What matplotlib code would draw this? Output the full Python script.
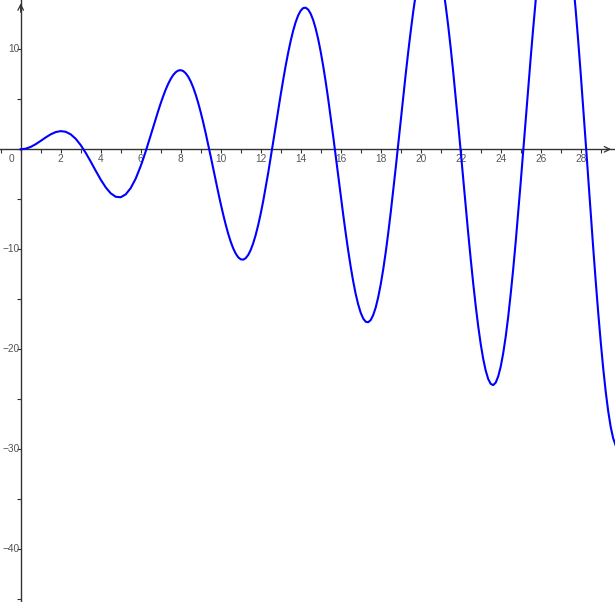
import matplotlib
matplotlib.use("Agg")
import matplotlib.pyplot as plt
from matplotlib.ticker import MultipleLocator

# Points
x_vals = [0, 0.25, 0.5, 0.75, 1, 1.25, 1.5, 1.75, 2, 2.25, 2.5, 2.75,
          3, 3.25, 3.5, 3.75, 4, 4.25, 4.5, 4.75, 5, 5.25, 5.5, 5.75,
          6, 6.125, 6.25, 6.375, 6.5, 6.625, 6.75, 6.875,
          7, 7.125, 7.25, 7.375, 7.5, 7.625, 7.75, 7.875,
          8, 8.125, 8.25, 8.375, 8.5, 8.625, 8.75, 8.875,
          9, 9.125, 9.25, 9.375, 9.5, 9.625, 9.75, 9.875,
          10, 10.125, 10.25, 10.375, 10.5, 10.625, 10.75, 10.875,
          11, 11.125, 11.25, 11.375, 11.5, 11.625, 11.75, 11.875,
          12, 12.125, 12.25, 12.375, 12.5, 12.625, 12.75, 12.875,
          13, 13.125, 13.25, 13.375, 13.5, 13.625, 13.75, 13.875,
          14, 14.125, 14.25, 14.375, 14.5, 14.625, 14.75, 14.875,
          15, 15.125, 15.25, 15.375, 15.5, 15.625, 15.75, 15.875,
          16, 16.125, 16.25, 16.375, 16.5, 16.625, 16.75, 16.875,
          17, 17.125, 17.25, 17.375, 17.5, 17.625, 17.75, 17.875,
          18, 18.125, 18.25, 18.375, 18.5, 18.625, 18.75, 18.875,
          19, 19.125, 19.25, 19.375, 19.5, 19.625, 19.75, 19.875,
          20, 20.125, 20.25, 20.375, 20.5, 20.625, 20.75, 20.875,
          21, 21.125, 21.25, 21.375, 21.5, 21.625, 21.75, 21.875,
          22, 22.125, 22.25, 22.375, 22.5, 22.625, 22.75, 22.875,
          23, 23.125, 23.25, 23.375, 23.5, 23.625, 23.75, 23.875,
          24, 24.125, 24.25, 24.375, 24.5, 24.625, 24.75, 24.875,
          25, 25.125, 25.25, 25.375, 25.5, 25.625, 25.75, 25.875,
          26, 26.125, 26.25, 26.375, 26.5, 26.625, 26.75, 26.875,
          27, 27.125, 27.25, 27.375, 27.5, 27.625, 27.75, 27.875,
          28, 28.125, 28.25, 28.375, 28.5, 28.625, 28.75, 28.875,
          29, 29.125, 29.25, 29.375, 29.5, 29.625, 29.75]
y_vals = [0, 0.062, 0.240, 0.511, 0.841, 1.186, 1.496, 1.722, 1.819, 1.751, 1.496, 1.050,
          0.423, -0.352, -1.228, -2.144, -3.027, -3.804, -4.399, -4.747, -4.795, -4.509, -3.880, -2.933,
          -1.676, -0.965, -0.208, 0.585, 1.398, 2.221, 3.038, 3.835,
          4.599, 5.314, 5.969, 6.547, 7.035, 7.427, 7.707, 7.873,
          7.915, 7.828, 7.605, 7.263, 6.787, 6.185, 5.466, 4.638,
          3.709, 2.695, 1.608, 0.467, -0.714, -1.914, -3.115, -4.298,
          -5.440, -6.523, -7.530, -8.442, -9.237, -9.904, -10.428, -10.796,
          -11.000, -11.033, -10.889, -10.566, -10.068, -9.399, -8.561, -7.572,
          -6.439, -5.180, -3.796, -2.354, -0.829, 0.740, 2.328, 3.910,
          5.463, 6.956, 8.370, 9.675, 10.850, 11.870, 12.730, 13.400,
          13.868, 14.124, 14.159, 13.970, 13.556, 12.917, 12.070, 11.009,
          9.755, 8.326, 6.748, 5.026, 3.195, 1.295, -0.662, -2.638,
          -4.606, -6.531, -8.382, -10.131, -11.745, -13.200, -14.472, -15.514,
          -16.344, -16.921, -17.243, -17.295, -17.073, -16.578, -15.821, -14.795,
          -13.518, -12.013, -10.311, -8.397, -6.336, -4.148, -1.866, 0.479,
          2.846, 5.200, 7.504, 9.718, 11.807, 13.738, 15.476, 16.995,
          18.258, 19.256, 19.956, 20.355, 20.434, 20.194, 19.636, 18.754,
          17.571, 16.093, 14.348, 12.355, 10.133, 7.744, 5.185, 2.535,
          -0.196, -2.954, -5.696, -8.382, -10.962, -13.401, -15.652, -17.689,
          -19.463, -20.954, -22.127, -22.968, -23.455, -23.578, -23.332, -22.710,
          -21.734, -20.400, -18.733, -16.753, -14.470, -11.973, -9.252, -6.341,
          -3.310, -0.194, 2.954, 6.088, 9.157, 12.113, 14.904, 17.486,
          19.825, 21.877, 23.594, 24.964, 25.954, 26.542, 26.721, 26.480,
          25.823, 24.752, 23.285, 21.432, 19.253, 16.705, 13.900, 10.838,
          7.585, 4.182, 0.686, -2.852, -6.378, -9.836, -13.168, -16.320,
          -19.244, -21.896, -24.228, -26.185, -27.760, -28.908, -29.616]

x_ticks = [2, 4, 6, 8, 10, 12, 14, 16, 18, 20, 22, 24, 26, 28]
y_ticks = [-40, -30, -20, -10, 10]

XMIN, XMAX = -1.035, 29.715
YMIN, YMAX = -45.27, 14.93

plt.rcParams['font.family'] = ['Liberation Sans', 'DejaVu Sans']
fig = plt.figure(figsize=(6.15, 6.02), dpi=100)
ax = fig.add_axes([0, 0, 1, 1])
ax.set_xlim(XMIN, XMAX)
ax.set_ylim(YMIN, YMAX)

axis_col = '#333333'
lab_col = '#555555'

for s in ['top', 'right']:
    ax.spines[s].set_visible(False)
ax.spines['left'].set_position(('data', 0))
ax.spines['bottom'].set_position(('data', 0))
ax.spines['left'].set_color(axis_col)
ax.spines['bottom'].set_color(axis_col)
ax.spines['left'].set_linewidth(1.0)
ax.spines['bottom'].set_linewidth(1.0)

ax.xaxis.set_major_locator(MultipleLocator(2))
ax.xaxis.set_minor_locator(MultipleLocator(1))
ax.yaxis.set_major_locator(MultipleLocator(10))
ax.yaxis.set_minor_locator(MultipleLocator(5))
ax.tick_params(which='both', direction='out', length=3, width=0.8, color=axis_col,
               labelbottom=False, labelleft=False)

# arrows
ax.annotate('', xy=(XMAX - 0.05, 0), xytext=(XMAX - 0.6, 0),
            arrowprops=dict(arrowstyle='->', color=axis_col, lw=0.9, mutation_scale=10))
ax.annotate('', xy=(0, YMAX - 0.05), xytext=(0, YMAX - 1.5),
            arrowprops=dict(arrowstyle='->', color=axis_col, lw=0.9, mutation_scale=10))

fs = 7.3
for t in x_ticks:
    ax.text(t, -0.95, str(t), ha='center', va='center', fontsize=fs, color=lab_col)
ax.text(-0.45, -0.95, '0', ha='center', va='center', fontsize=fs, color=lab_col)
for t in y_ticks:
    lab = str(t).replace('-', '\u2212')
    ax.text(-0.04, t, lab, ha='right', va='center', fontsize=fs, color=lab_col)

ax.plot(x_vals, y_vals, color='#0000ff', lw=1.5, zorder=5, clip_on=True,
        solid_joinstyle='round')

fig.savefig('out.png', dpi=100)
